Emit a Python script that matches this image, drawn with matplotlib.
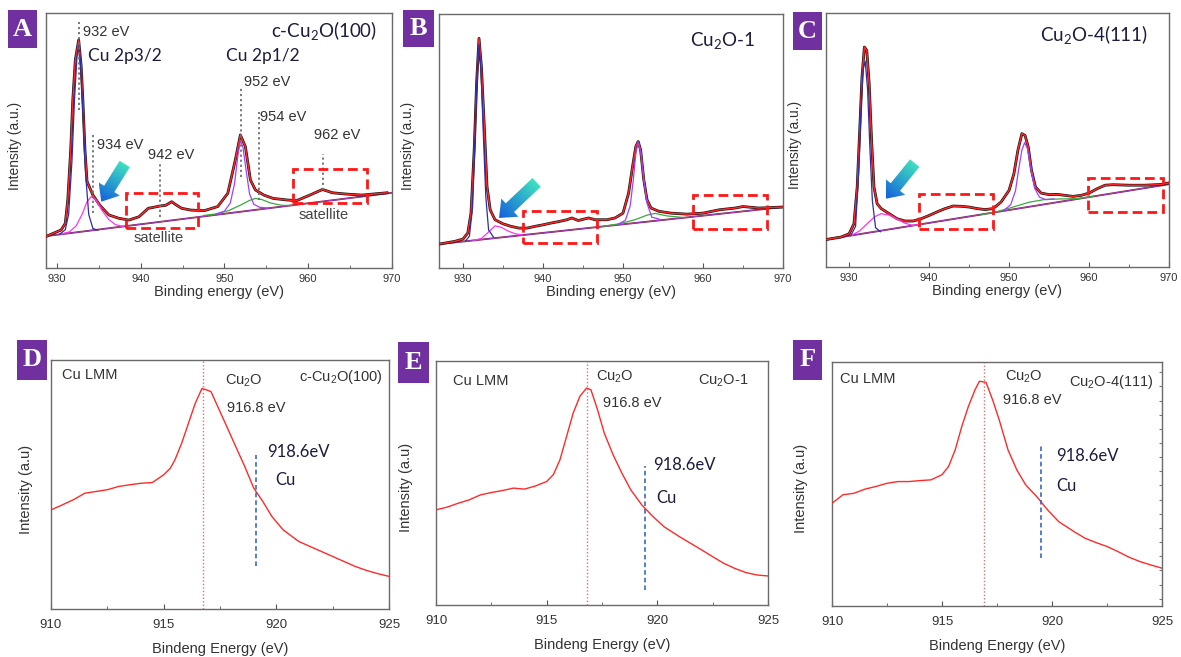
import numpy as np
import matplotlib
matplotlib.use("Agg")
import matplotlib.pyplot as plt
from matplotlib.patches import Rectangle, Polygon
from matplotlib.colors import to_rgb
from matplotlib.ticker import MultipleLocator

plt.rcParams['font.family'] = ['Liberation Sans', 'DejaVu Sans']
plt.rcParams['mathtext.default'] = 'regular'

# ---------------- data: Cu 2p spectra (top row) ----------------
A_data_x = [928.8, 930.5, 931.0, 931.3, 931.65, 931.9, 932.2, 932.6, 932.9, 933.1, 933.35, 933.6, 934.3,
            935.1, 936.2, 937.4, 938.6, 939.8, 940.9, 942.3, 943.0, 943.7, 944.3, 944.9, 946.0, 947.6,
            949.2, 950.4, 951.3, 951.9, 952.5, 953.1, 953.7, 954.7, 955.8, 957.4, 958.6, 960.2,
            961.7, 962.9, 964.5, 966.4, 969.4]
A_data_y = [12.5, 14.9, 17.5, 26.7, 46.3, 65.9, 81.6, 89.4, 79.0, 65.9, 46.3, 33.9, 28.6,
            24.7, 20.8, 19.5, 18.8, 20.1, 23.4, 24.3, 24.6, 26.0, 24.6, 23.4, 22.7, 22.5,
            24.1, 29.3, 42.4, 52.2, 47.6, 34.5, 30.6, 28.6, 27.3, 26.7, 26.4, 28.6,
            30.8, 29.5, 29.0, 28.6, 29.5]
A_base_x = [928.7, 970.0]
A_base_y = [12.5, 29.5]
A_blue_x = [930.3, 931.0, 931.4, 931.8, 932.1, 932.4, 932.6, 932.8, 933.1, 933.4, 933.8, 934.3, 934.9]
A_blue_y = [13.2, 15.0, 21.0, 42.0, 66.0, 83.0, 87.0, 82.0, 62.0, 38.0, 21.0, 15.5, 14.8]
A_mag_x = [930.5, 931.5, 932.3, 933.0, 933.6, 934.1, 934.7, 935.4, 936.2, 937.0, 937.9]
A_mag_y = [13.3, 14.2, 16.5, 21.0, 26.0, 28.0, 26.5, 22.5, 19.0, 17.0, 16.3]
A_pur_x = [949.0, 950.0, 950.7, 951.2, 951.6, 951.9, 952.2, 952.6, 953.0, 953.5, 954.2, 955.2]
A_pur_y = [21.2, 22.3, 25.5, 33.0, 44.0, 50.0, 47.5, 38.0, 29.0, 25.0, 23.8, 23.5]
A_grn_x = [947.5, 949.0, 950.5, 952.0, 953.0, 953.7, 954.5, 955.5, 956.8, 958.0]
A_grn_y = [20.6, 21.2, 22.5, 24.8, 26.5, 27.3, 26.8, 25.5, 24.6, 24.5]

B_data_x = [927.0, 929.0, 930.0, 930.6, 931.0, 931.4, 931.7, 932.0, 932.3, 932.7, 933.0, 933.4, 934.0,
            935.0, 936.0, 937.0, 938.0, 939.0, 940.0, 941.0, 942.0, 943.0, 943.6, 944.4, 945.7, 946.5,
            948.0, 949.0, 950.0, 950.7, 951.2, 951.6, 951.9, 952.2, 952.6, 953.0, 953.5, 954.5,
            956.0, 958.0, 960.0, 962.0, 964.0, 965.0, 967.0, 970.0]
B_data_y = [9.4, 10.5, 11.4, 13.8, 21.6, 46.5, 72.7, 90.4, 79.3, 53.1, 32.1, 22.9, 19.0,
            17.4, 16.4, 15.7, 15.7, 16.4, 17.0, 17.7, 18.3, 19.0, 19.7, 18.7, 19.7, 19.0,
            19.0, 19.7, 21.6, 29.5, 40.0, 47.8, 49.8, 46.5, 34.7, 26.9, 23.6, 22.3,
            21.6, 21.2, 21.6, 22.9, 23.6, 24.2, 23.6, 24.0]
B_base_x = [927.0, 970.0]
B_base_y = [9.4, 24.0]
B_blue_x = [930.3, 930.8, 931.2, 931.5, 931.75, 932.0, 932.25, 932.55, 932.85, 933.2, 933.8]
B_blue_y = [10.6, 12.5, 24.0, 52.0, 76.0, 88.0, 78.0, 52.0, 28.0, 15.0, 12.2]
B_mag_x = [931.3, 932.3, 933.2, 934.0, 934.8, 935.6, 936.5, 937.4]
B_mag_y = [10.9, 11.6, 14.2, 16.6, 16.0, 14.6, 13.5, 13.0]
B_pur_x = [949.3, 950.3, 950.9, 951.3, 951.6, 951.9, 952.2, 952.6, 953.0, 953.6, 954.5]
B_pur_y = [17.1, 18.8, 24.5, 35.0, 45.0, 49.5, 46.0, 35.0, 25.5, 20.0, 19.3]
B_grn_x = [947.5, 949.5, 951.5, 953.0, 954.0, 955.5, 957.5]
B_grn_y = [16.4, 17.4, 19.0, 20.8, 21.5, 20.5, 19.9]

C_data_x = [927.1, 929.0, 930.0, 930.6, 931.0, 931.3, 931.6, 931.9, 932.2, 932.5, 932.8, 933.1, 933.5,
            934.0, 935.0, 936.0, 937.0, 938.0, 939.0, 940.0, 941.0, 942.0, 943.0, 944.0, 945.0,
            946.0, 947.0, 948.0, 949.0, 950.0, 950.6, 951.1, 951.6, 952.0, 952.4, 952.8, 953.3,
            954.0, 955.0, 956.0, 957.0, 958.0, 959.0, 960.0, 961.0, 962.0, 963.0, 965.0, 967.0,
            969.0, 970.0]
C_data_y = [10.8, 11.8, 13.1, 17.1, 31.5, 52.5, 74.8, 86.6, 85.3, 72.2, 49.9, 31.5, 24.9,
            23.0, 21.0, 19.0, 18.1, 18.1, 19.0, 20.3, 21.7, 23.0, 24.0, 23.9, 23.6,
            23.0, 22.6, 23.0, 25.6, 30.2, 36.7, 45.9, 52.5, 51.8, 47.2, 38.1, 31.5,
            29.1, 28.5, 28.6, 28.2, 27.8, 28.2, 29.1, 30.8, 32.2, 32.4, 32.2, 32.2,
            32.5, 33.1]
C_base_x = [927.1, 970.0]
C_base_y = [10.8, 32.6]
C_blue_x = [930.2, 930.8, 931.2, 931.5, 931.75, 932.0, 932.3, 932.6, 932.9, 933.3, 933.9]
C_blue_y = [12.4, 16.0, 38.0, 64.0, 78.0, 81.0, 70.0, 46.0, 26.0, 15.5, 13.9]
C_mag_x = [930.3, 931.3, 932.3, 933.2, 934.0, 935.0, 936.0, 937.0, 938.0, 939.0]
C_mag_y = [12.5, 14.2, 17.2, 19.8, 21.0, 20.4, 18.8, 17.2, 16.4, 16.9]
C_pur_x = [949.3, 950.2, 950.8, 951.2, 951.6, 951.95, 952.3, 952.7, 953.2, 953.8, 954.6, 955.6]
C_pur_y = [22.2, 24.5, 30.0, 38.5, 46.0, 49.0, 46.5, 39.0, 31.0, 27.5, 26.5, 26.8]
C_grn_x = [946.5, 948.5, 950.5, 952.5, 954.5, 956.5, 958.5, 960.5]
C_grn_y = [20.6, 21.8, 23.6, 25.5, 26.6, 26.8, 26.9, 27.8]

# ---------------- data: Cu LMM spectra (bottom row) ----------------
D_x = [910.0, 910.5, 911.0, 911.5, 912.0, 912.5, 913.0, 913.5, 914.0, 914.5, 915.0, 915.3, 915.5,
       915.8, 916.1, 916.4, 916.7, 916.9, 917.1, 917.4, 917.8, 918.2, 918.6, 919.0, 919.4, 919.8,
       920.3, 921.0, 921.5, 922.0, 922.5, 923.0, 923.5, 924.0, 924.5, 925.0]
D_y = [39.8, 41.8, 43.9, 46.5, 47.2, 47.9, 49.2, 49.9, 50.5, 50.8, 53.9, 56.6, 59.9,
       66.6, 74.6, 82.6, 88.6, 88.0, 87.3, 81.3, 73.3, 65.2, 57.2, 48.5, 43.2, 37.2,
       31.8, 27.1, 25.1, 23.1, 21.1, 19.1, 17.1, 15.5, 14.2, 13.1]
E_x = [910.0, 910.5, 911.0, 911.5, 912.0, 912.5, 913.0, 913.5, 914.0, 914.5, 915.0, 915.3, 915.6,
       915.9, 916.2, 916.5, 916.8, 917.0, 917.3, 917.6, 918.0, 918.4, 918.8, 919.3, 919.8, 920.3,
       921.0, 921.5, 922.0, 922.5, 923.0, 923.5, 924.0, 924.5, 925.0]
E_y = [39.0, 40.1, 41.7, 43.1, 45.1, 46.1, 46.9, 47.9, 47.5, 48.8, 50.6, 53.4, 59.5,
       69.1, 78.7, 85.5, 88.9, 88.2, 80.0, 70.5, 61.6, 54.0, 47.2, 41.0, 36.3, 32.1,
       28.0, 25.3, 22.6, 19.8, 17.1, 15.0, 13.3, 12.3, 11.9]
F_x = [910.0, 910.5, 911.0, 911.5, 912.0, 912.5, 913.0, 913.5, 914.0, 914.5, 915.0, 915.3, 915.6,
       915.9, 916.2, 916.5, 916.7, 917.0, 917.3, 917.6, 918.0, 918.4, 918.8, 919.3, 919.8, 920.3,
       921.0, 921.5, 922.0, 922.5, 923.0, 923.5, 924.0, 924.5, 925.0]
F_y = [42.1, 45.6, 46.2, 47.9, 49.0, 50.3, 51.0, 51.0, 51.4, 51.7, 53.8, 57.2, 64.0,
       73.6, 81.8, 88.6, 92.1, 91.7, 84.5, 76.3, 64.0, 55.8, 49.7, 44.9, 39.4, 34.6,
       30.5, 27.8, 26.0, 24.4, 22.3, 20.0, 18.2, 16.8, 15.5]

top_ticks = [930, 940, 950, 960, 970]
bottom_ticks = [910, 915, 920, 925]
labels = ['A', 'B', 'C', 'D', 'E', 'F']
sample_names = ['c-Cu$_2$O(100)', 'Cu$_2$O-1', 'Cu$_2$O-4(111)']

W, H = 1181, 657
fig = plt.figure(figsize=(W / 100, H / 100), dpi=100)
fig.patch.set_facecolor('white')


def add_ax(l, t, r, b):
    return fig.add_axes([l / W, 1 - b / H, (r - l) / W, (b - t) / H])


def style(ax, xlim, major, minor, xlabel, ylabel, ylx, tfs, lfs, ylfs, tpad, lpad):
    ax.set_xlim(*xlim)
    ax.set_ylim(0, 100)
    ax.set_autoscale_on(False)
    ax.xaxis.set_major_locator(MultipleLocator(major))
    ax.xaxis.set_minor_locator(MultipleLocator(minor))
    ax.set_yticks([])
    ax.tick_params(axis='x', which='both', direction='in', top=False, labelsize=tfs,
                   labelcolor='#333333', color='#555555', pad=tpad)
    ax.tick_params(axis='x', which='major', length=3.5)
    ax.tick_params(axis='x', which='minor', length=2.5)
    for s in ax.spines.values():
        s.set_color('#6a6a6a')
        s.set_linewidth(1.0)
    ax.set_xlabel(xlabel, fontsize=lfs, color='#333333', labelpad=lpad)
    ax.set_ylabel(ylabel, fontsize=ylfs, color='#333333')
    ax.yaxis.set_label_coords(ylx, 0.48)


def grad_arrow(ax, tail, tip, body=12, head=25, headlen=15):
    p0 = ax.transData.transform(tail)
    p1 = ax.transData.transform(tip)
    d = p1 - p0
    L = np.hypot(*d)
    u = d / L
    n = np.array([-u[1], u[0]])
    neck = p1 - u * headlen
    verts = np.array([p0 + n * body / 2, neck + n * body / 2, neck + n * head / 2, p1,
                      neck - n * head / 2, neck - n * body / 2, p0 - n * body / 2])
    inv = ax.transAxes.inverted()
    poly = Polygon(inv.transform(verts), closed=True, transform=ax.transAxes,
                   facecolor='none', edgecolor='none')
    ax.add_patch(poly)
    x0, y0 = verts.min(0)
    x1, y1 = verts.max(0)
    gx, gy = np.meshgrid(np.linspace(x0, x1, 60), np.linspace(y0, y1, 60))
    t = np.clip(((gx - p0[0]) * u[0] + (gy - p0[1]) * u[1]) / L, 0, 1)
    c0 = np.array(to_rgb('#3fe0c0'))
    c1 = np.array(to_rgb('#1560dc'))
    img = c0 + (c1 - c0) * t[..., None]
    e = inv.transform([[x0, y0], [x1, y1]])
    im = ax.imshow(img, origin='lower', extent=(e[0, 0], e[1, 0], e[0, 1], e[1, 1]),
                   transform=ax.transAxes, aspect='auto', interpolation='bilinear', zorder=6)
    im.set_clip_path(poly)


def red_box(ax, x0, x1, y0, y1):
    ax.add_patch(Rectangle((x0, y0), x1 - x0, y1 - y0, fill=False, edgecolor='#ff1616',
                           lw=2.0, linestyle=(0, (3.5, 1.8)), zorder=7))


def label_box(l, t, r, b, letter):
    fig.patches.append(Rectangle((l / W, 1 - b / H), (r - l) / W, (b - t) / H,
                                 transform=fig.transFigure, facecolor='#7030a0',
                                 edgecolor='none'))
    fig.text((l + r) / 2 / W, 1 - (t + b) / 2 / H, letter, color='white', fontsize=19,
             family='Liberation Serif', fontweight='bold', ha='center', va='center')


def vdot(ax, x, y0, y1):
    ax.plot([x, x], [y0, y1], color='#6e6e6e', lw=1.3, linestyle=(0, (1.2, 1.6)), zorder=4)


COL_BLUE = '#2e2ea6'
COL_MAG = '#ff36f0'
COL_PUR = '#a040ff'
COL_GRN = '#3aaa3a'
COL_BASE = '#8b1a3c'
COL_FIT = '#ff2626'
COL_NAVY = '#1c1c3c'
CAL = ['Lato', 'DejaVu Sans']

top_sets = [
    (A_data_x, A_data_y, A_base_x, A_base_y, A_blue_x, A_blue_y, A_mag_x, A_mag_y,
     A_pur_x, A_pur_y, A_grn_x, A_grn_y),
    (B_data_x, B_data_y, B_base_x, B_base_y, B_blue_x, B_blue_y, B_mag_x, B_mag_y,
     B_pur_x, B_pur_y, B_grn_x, B_grn_y),
    (C_data_x, C_data_y, C_base_x, C_base_y, C_blue_x, C_blue_y, C_mag_x, C_mag_y,
     C_pur_x, C_pur_y, C_grn_x, C_grn_y),
]
top_pos = [(46, 13, 392, 268), (439, 14, 783, 268), (826, 13, 1169, 267)]
top_xlim = [(928.7, 970.0), (927.0, 970.0), (927.1, 970.0)]
top_ylx = [-0.068, -0.069, -0.069]
top_boxes = [
    [(938.3, 946.9, 15.6, 29.3), (958.2, 967.0, 25.4, 38.7)],
    [(937.5, 946.8, 9.8, 22.3), (958.7, 968.0, 15.3, 28.8)],
    [(938.7, 948.0, 15.1, 28.9), (959.9, 969.2, 21.7, 35.0)],
]
top_arrows = [((938.1, 40.8), (935.3, 26.0)), ((939.2, 33.7), (934.5, 19.7)),
              ((938.2, 40.9), (934.6, 26.9))]
top_name_pos = [(955.6, 93.3), (958.4, 89.5), (953.9, 91.6)]

top_axes = []
for i in range(3):
    ax = add_ax(*top_pos[i])
    style(ax, top_xlim[i], 10, 5, 'Binding energy (eV)', 'Intensity (a.u.)', top_ylx[i],
          8, 10.5, 10, 4, 1)
    ax.set_xticks(top_ticks)
    (dx, dy, bx, by, blx, bly, mx, my, px, py, gx, gy) = top_sets[i]
    ax.plot(bx, by, color=COL_BASE, lw=1.3, zorder=2)
    ax.plot(bx, by, color='#9a4ad8', lw=0.6, zorder=2.1)
    ax.plot(dx, dy, color='#111111', lw=2.0, zorder=3)
    ax.plot(dx, dy, color=COL_FIT, lw=1.1, zorder=3.5)
    ax.plot(gx, gy, color=COL_GRN, lw=0.9, zorder=3.6)
    ax.plot(mx, my, color=COL_MAG, lw=0.9, zorder=3.6)
    ax.plot(px, py, color=COL_PUR, lw=0.9, zorder=3.7)
    ax.plot(blx, bly, color=COL_BLUE, lw=0.9, zorder=3.7)
    for bxs in top_boxes[i]:
        red_box(ax, *bxs)
    grad_arrow(ax, *top_arrows[i])
    ax.set_xlim(*top_xlim[i])
    ax.set_ylim(0, 100)
    ax.text(top_name_pos[i][0], top_name_pos[i][1], sample_names[i], fontsize=13.5,
            family=CAL, color=COL_NAVY, ha='left', va='center', zorder=8)
    top_axes.append(ax)

# annotations on panel A
axA = top_axes[0]
vdot(axA, 932.6, 62.0, 96.6)
vdot(axA, 934.3, 21.4, 52.8)
vdot(axA, 942.3, 20.1, 41.0)
vdot(axA, 952.0, 35.8, 70.5)
vdot(axA, 954.1, 26.7, 61.3)
vdot(axA, 961.8, 30.6, 44.7)
for (tx, ty, s) in [(933.1, 92.7, '932 eV'), (934.8, 48.2, '934 eV'), (940.9, 44.3, '942 eV'),
                    (952.3, 72.8, '952 eV'), (954.3, 59.3, '954 eV'), (960.7, 52.2, '962 eV')]:
    axA.text(tx, ty, s, fontsize=10.5, color='#333333', ha='left', va='center', zorder=8)
axA.text(933.7, 83.1, 'Cu 2p3/2', fontsize=12.5, family=CAL,
         color=COL_NAVY, ha='left', va='center')
axA.text(950.2, 83.1, 'Cu 2p1/2', fontsize=12.5, family=CAL,
         color=COL_NAVY, ha='left', va='center')
axA.text(942.2, 11.6, 'satellite', fontsize=10.5, color='#444444', ha='center', va='center')
axA.text(961.8, 20.8, 'satellite', fontsize=10.5, color='#444444', ha='center', va='center')

# ---------------- bottom row ----------------
bot_sets = [(D_x, D_y), (E_x, E_y), (F_x, F_y)]
bot_pos = [(51, 360, 389, 609), (436, 361, 768, 605), (832, 362, 1162, 606)]
bot_ylx = [-0.053, -0.069, -0.073]
bot_red_line = [916.76, 916.82, 916.9]
bot_blue_line = [(919.1, 17.1, 61.9), (919.44, 6.2, 56.8), (919.5, 19.6, 65.4)]
bot_texts = [
    [(910.5, 94.0), (917.7, 91.7), (917.8, 80.6), (919.57, 63.2), (919.94, 51.9), (924.74, 93.0)],
    [(910.77, 91.9), (917.24, 93.4), (917.55, 82.8), (919.8, 57.5), (919.95, 43.8), (924.1, 91.7)],
    [(910.35, 93.2), (917.85, 94.1), (917.77, 84.5), (920.2, 61.3), (920.2, 49.0), (924.6, 92.0)],
]
for i in range(3):
    ax = add_ax(*bot_pos[i])
    style(ax, (910, 925), 5, 2.5, 'Bindeng Energy (eV)', 'Intensity (a.u)', bot_ylx[i],
          9.5, 10.5, 10.5, 7, 8)
    ax.set_xticks(bottom_ticks)
    x, y = bot_sets[i]
    ax.plot(x, y, color='#ff2a2a', lw=1.0, zorder=3)
    ax.axvline(bot_red_line[i], color='#e07070', lw=1.0, linestyle=(0, (1.0, 1.5)), zorder=2)
    bxl, by0, by1 = bot_blue_line[i]
    ax.plot([bxl, bxl], [by0, by1], color='#2a5cb8', lw=1.1, linestyle=(0, (3.0, 2.0)), zorder=4)
    tp = bot_texts[i]
    ax.text(*tp[0], 'Cu LMM', fontsize=10.5, color='#333333', ha='left', va='center')
    ax.text(*tp[1], 'Cu$_2$O', fontsize=10.5, color='#333333', ha='left', va='center')
    ax.text(*tp[2], '916.8 eV', fontsize=10.5, color='#333333', ha='left', va='center')
    ax.text(*tp[3], '918.6eV', fontsize=12, family=CAL, color=COL_NAVY,
            ha='left', va='center')
    ax.text(*tp[4], 'Cu', fontsize=12, family=CAL, color=COL_NAVY,
            ha='left', va='center')
    ax.text(*tp[5], sample_names[i], fontsize=10.5, color='#333333', ha='right', va='center')
    if i == 2:
        ax.yaxis.set_ticks_position('right')
        ax.set_yticks(np.arange(3, 100, 5.8))
        ax.tick_params(axis='y', direction='in', length=2.5, labelright=False, color='#777777')

# panel letter boxes
box_pos = [(8, 10, 37, 48), (403, 10, 434, 47), (793, 12, 822, 50),
           (17, 340, 47, 380), (398, 342, 429, 383), (793, 340, 822, 380)]
for bp, lt in zip(box_pos, labels):
    label_box(*bp, lt)

fig.savefig('out.png', dpi=100, facecolor='white')
